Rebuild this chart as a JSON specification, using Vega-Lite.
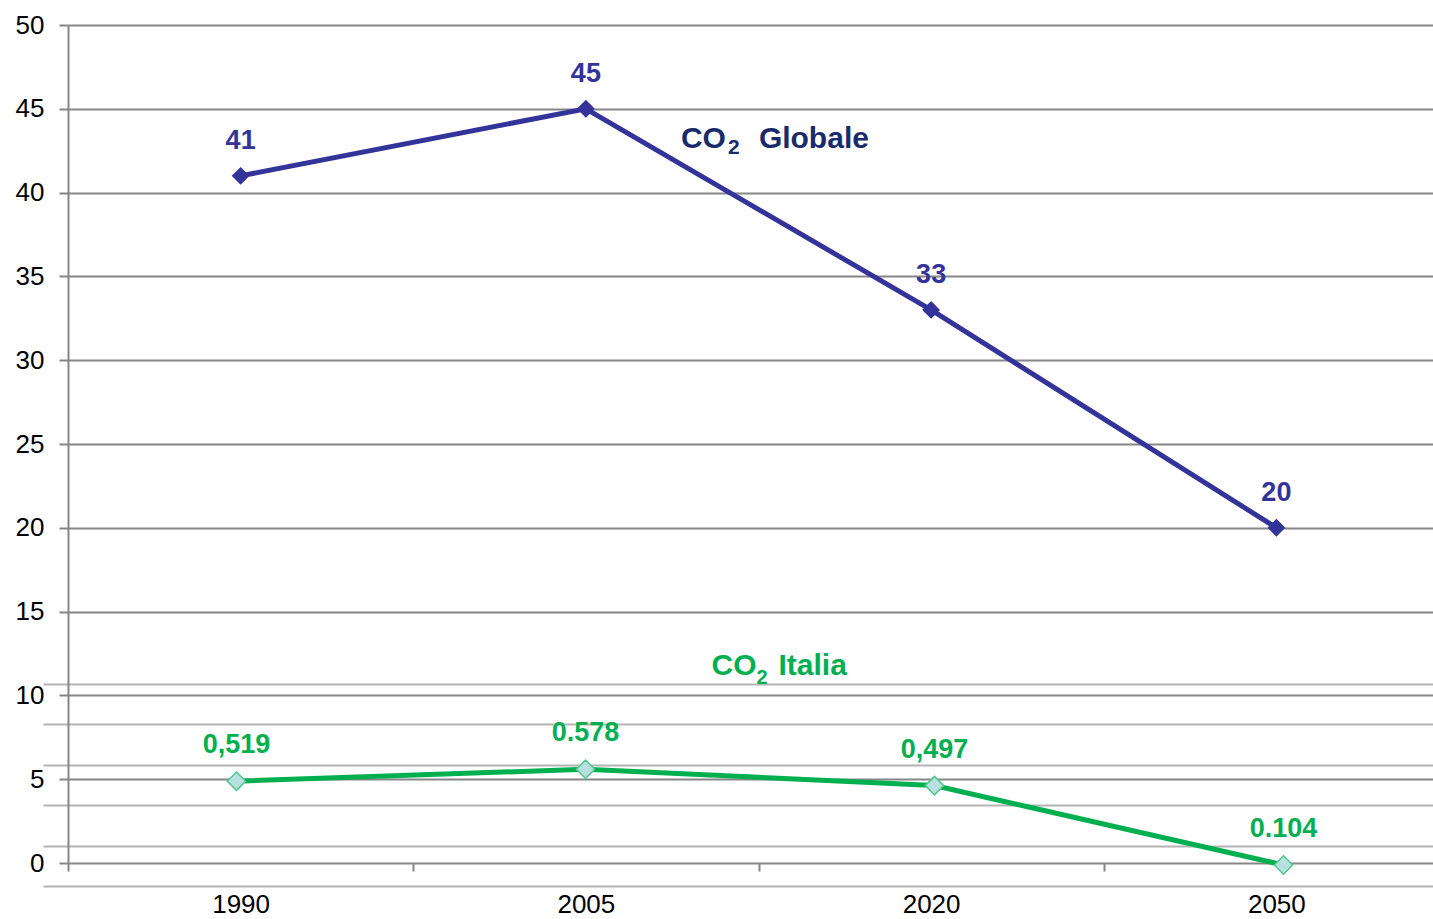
{
  "$schema": "https://vega.github.io/schema/vega-lite/v6.json",
  "width": 1365,
  "height": 838,
  "autosize": {"type": "none"},
  "padding": {"left": 68, "top": 25, "right": 0, "bottom": 56},
  "background": "white",
  "config": {
    "view": {"stroke": null},
    "font": "Liberation Sans",
    "axis": {"labelFont": "Liberation Sans"}
  },
  "datasets": {
    "globale": [
      {"anno": "1990", "valore": 41, "etichetta": "41"},
      {"anno": "2005", "valore": 45, "etichetta": "45"},
      {"anno": "2020", "valore": 33, "etichetta": "33"},
      {"anno": "2050", "valore": 20, "etichetta": "20"}
    ],
    "italia": [
      {"anno": "1990", "valore": 0.519, "etichetta": "0,519"},
      {"anno": "2005", "valore": 0.578, "etichetta": "0.578"},
      {"anno": "2020", "valore": 0.497, "etichetta": "0,497"},
      {"anno": "2050", "valore": 0.104, "etichetta": "0.104"}
    ]
  },
  "layer": [
    {
      "data": {"name": "globale"},
      "encoding": {
        "x": {
          "field": "anno",
          "type": "nominal",
          "sort": null,
          "scale": {"type": "band", "range": [0, 1381], "paddingInner": 0, "paddingOuter": 0},
          "axis": {
            "title": null,
            "labelAngle": 0,
            "domain": false,
            "grid": false,
            "tickBand": "extent",
            "tickSize": 8,
            "tickWidth": 2,
            "tickColor": "#868686",
            "labelFontSize": 26,
            "labelColor": "#000000",
            "labelPadding": 20
          }
        },
        "y": {
          "field": "valore",
          "type": "quantitative",
          "scale": {"domain": [0, 50], "nice": false},
          "axis": {
            "title": null,
            "values": [0, 5, 10, 15, 20, 25, 30, 35, 40, 45, 50],
            "grid": true,
            "gridColor": "#868686",
            "gridWidth": 2,
            "domainColor": "#868686",
            "domainWidth": 2,
            "tickColor": "#868686",
            "tickWidth": 2,
            "tickSize": 9,
            "labelFontSize": 26,
            "labelColor": "#000000",
            "labelPadding": 15
          }
        }
      },
      "layer": [
        {"mark": {"type": "line", "color": "#333399", "strokeWidth": 5}},
        {"mark": {"type": "point", "shape": "diamond", "filled": true, "color": "#333399", "size": 320, "opacity": 1}},
        {
          "mark": {"type": "text", "dy": -35, "baseline": "middle", "fontSize": 27, "fontWeight": "bold", "color": "#333399"},
          "encoding": {"text": {"field": "etichetta"}}
        },
        {
          "transform": [{"filter": "datum.anno === '2005'"}],
          "layer": [
            {"mark": {"type": "text", "text": "CO", "align": "left", "baseline": "middle", "dx": 95, "dy": 30, "fontSize": 30, "fontWeight": "bold", "color": "#1a2b6b"}},
            {"mark": {"type": "text", "text": "2", "align": "left", "baseline": "middle", "dx": 142, "dy": 39, "fontSize": 21, "fontWeight": "bold", "color": "#1a2b6b"}},
            {"mark": {"type": "text", "text": "Globale", "align": "left", "baseline": "middle", "dx": 173, "dy": 30, "fontSize": 30, "fontWeight": "bold", "color": "#1a2b6b"}}
          ]
        }
      ]
    },
    {
      "data": {"name": "italia"},
      "encoding": {
        "x": {
          "field": "anno",
          "type": "nominal",
          "sort": null,
          "scale": {"type": "point", "range": [-6, 1390], "padding": 0.5},
          "axis": null
        },
        "y": {
          "field": "valore",
          "type": "quantitative",
          "scale": {"domain": [0, 1], "range": [861, 659], "nice": false},
          "axis": {
            "orient": "right",
            "title": null,
            "values": [0, 0.2, 0.4, 0.6, 0.8, 1],
            "grid": true,
            "gridColor": "#b4b4b4",
            "gridWidth": 2,
            "labels": false,
            "ticks": false,
            "domain": false
          }
        }
      },
      "layer": [
        {"mark": {"type": "line", "color": "#00b050", "strokeWidth": 5}},
        {"mark": {"type": "point", "shape": "diamond", "filled": true, "fill": "#b9e0e0", "stroke": "#50c88a", "strokeWidth": 1.5, "size": 340, "opacity": 1}},
        {
          "mark": {"type": "text", "dy": -36, "baseline": "middle", "fontSize": 27, "fontWeight": "bold", "color": "#00b050"},
          "encoding": {"text": {"field": "etichetta"}}
        },
        {
          "transform": [{"filter": "datum.anno === '2005'"}],
          "layer": [
            {"mark": {"type": "text", "text": "CO", "align": "left", "baseline": "middle", "dx": 126, "dy": -103, "fontSize": 30, "fontWeight": "bold", "color": "#00b050"}},
            {"mark": {"type": "text", "text": "2", "align": "left", "baseline": "middle", "dx": 171, "dy": -91, "fontSize": 20, "fontWeight": "bold", "color": "#00b050"}},
            {"mark": {"type": "text", "text": "Italia", "align": "left", "baseline": "middle", "dx": 193, "dy": -103, "fontSize": 30, "fontWeight": "bold", "color": "#00b050"}}
          ]
        }
      ]
    }
  ],
  "resolve": {"scale": {"x": "independent", "y": "independent"}}
}
